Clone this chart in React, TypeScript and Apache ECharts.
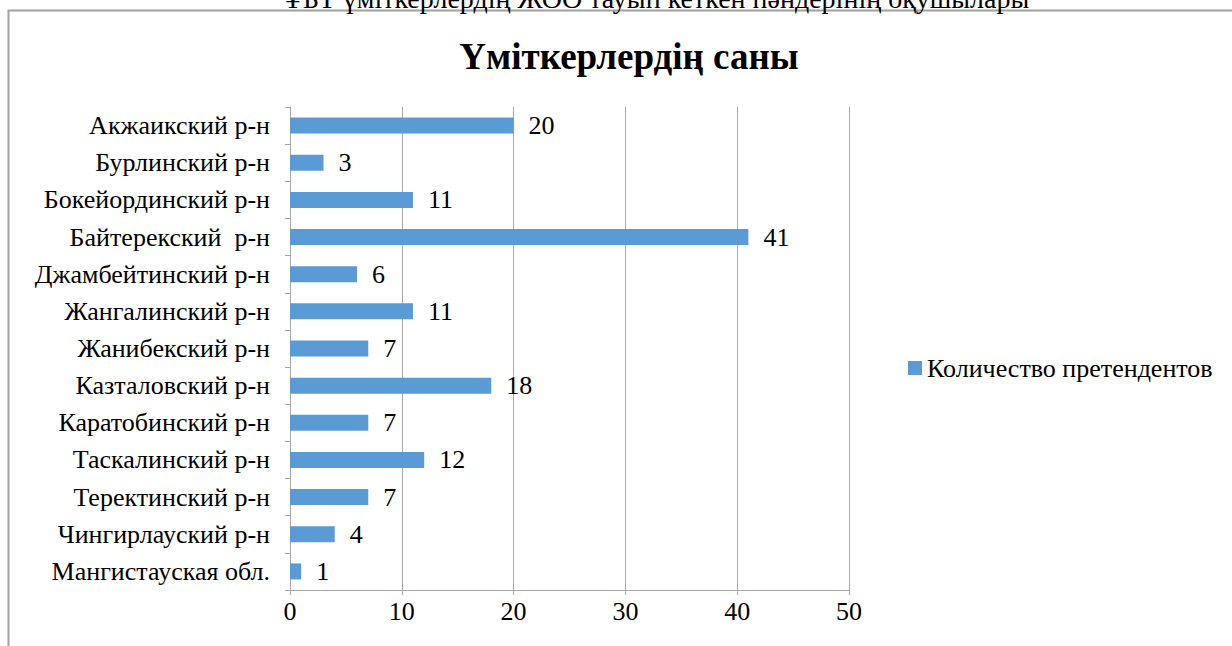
import React, { useEffect, useRef } from "react";
import * as echarts from "echarts";

const categories = [
  "Акжаикский р-н",
  "Бурлинский р-н",
  "Бокейординский р-н",
  "Байтерекский  р-н",
  "Джамбейтинский р-н",
  "Жангалинский р-н",
  "Жанибекский р-н",
  "Казталовский р-н",
  "Каратобинский р-н",
  "Таскалинский р-н",
  "Теректинский р-н",
  "Чингирлауский р-н",
  "Мангистауская обл.",
];
const values = [20, 3, 11, 41, 6, 11, 7, 18, 7, 12, 7, 4, 1];
const seriesName = "Количество претендентов";
const chartTitle = "Үміткерлердің саны";
const topCaption = "ҰБТ үміткерлердің ЖОО тауып кеткен пәндерінің оқушылары";
const xTicks = { min: 0, max: 50, interval: 10 };

const FONT = "Liberation Serif";
const FS = 26;

export default function App() {
  const ref = useRef<HTMLDivElement>(null);
  useEffect(() => {
    if (!ref.current) return;
    const chart = echarts.init(ref.current, undefined, { renderer: "svg" });
    chart.setOption({
      animation: false,
      backgroundColor: "#ffffff",
      textStyle: { fontFamily: FONT },
      graphic: [
        {
          type: "rect",
          shape: { x: 8.5, y: 10.5, width: 1240, height: 700 },
          style: { fill: "none", stroke: "#a0a0a0", lineWidth: 2 },
          silent: true,
        },
        {
          type: "text",
          x: 656,
          y: 12,
          style: {
            text: topCaption,
            fontFamily: FONT,
            fontSize: 28,
            fill: "#000",
            align: "center",
            verticalAlign: "bottom",
          },
        },
        {
          type: "text",
          x: 629,
          y: 56,
          style: {
            text: chartTitle,
            fontFamily: FONT,
            fontSize: 37,
            fontWeight: "bold",
            fill: "#000",
            align: "center",
            verticalAlign: "middle",
          },
        },
      ],
      legend: {
        left: 903,
        top: 350,
        icon: "rect",
        itemWidth: 14,
        itemHeight: 14,
        itemGap: 10,
        textStyle: { fontFamily: FONT, fontSize: FS, color: "#000" },
        data: [seriesName],
      },
      grid: { left: 290, right: 383, top: 107, bottom: 56, containLabel: false },
      xAxis: {
        type: "value",
        min: xTicks.min,
        max: xTicks.max,
        interval: xTicks.interval,
        axisLine: { show: true, lineStyle: { color: "#a6a6a6", width: 1 } },
        axisTick: { show: true, length: 5, lineStyle: { color: "#a6a6a6" } },
        splitLine: { show: true, lineStyle: { color: "#a6a6a6", width: 1 } },
        axisLabel: { fontFamily: FONT, fontSize: FS, color: "#000", margin: 8 },
      },
      yAxis: {
        type: "category",
        inverse: true,
        data: categories,
        axisLine: { show: true, lineStyle: { color: "#a6a6a6", width: 1 } },
        axisTick: { show: true, length: 5, lineStyle: { color: "#a6a6a6" } },
        axisLabel: { fontFamily: FONT, fontSize: FS, color: "#000", margin: 20 },
      },
      series: [
        {
          name: seriesName,
          type: "bar",
          data: values,
          barWidth: 16,
          itemStyle: { color: "#5b9bd5" },
          label: {
            show: true,
            position: "right",
            distance: 15,
            fontFamily: FONT,
            fontSize: FS,
            color: "#000",
          },
        },
      ],
    });
    return () => chart.dispose();
  }, []);
  return (
    <div
      ref={ref}
      style={{ position: "fixed", left: 0, top: 0, width: 1232, height: 646 }}
    />
  );
}
